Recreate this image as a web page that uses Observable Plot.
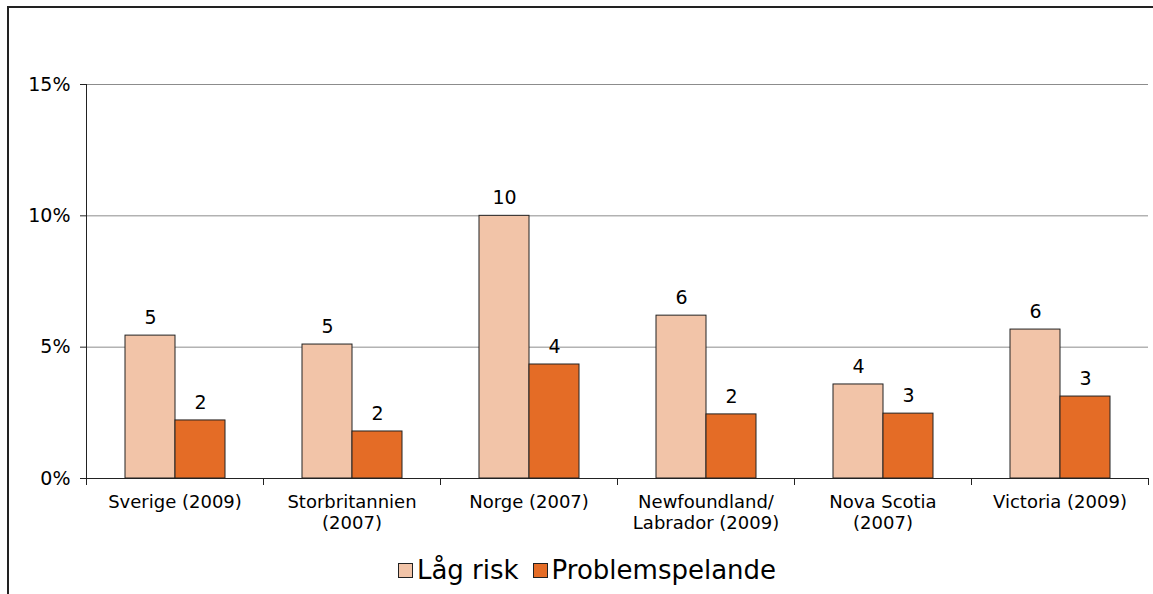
<!DOCTYPE html>
<html><head><meta charset="utf-8">
<script src="https://cdn.jsdelivr.net/npm/d3@7"></script>
<script src="https://cdn.jsdelivr.net/npm/@observablehq/plot@0.6"></script>
<style>
body{margin:0;background:#fff;font-family:"DejaVu Sans",Verdana,sans-serif;}
#frame{position:absolute;left:7px;top:6px;width:1146px;height:600px;border-left:2px solid #222;border-top:2px solid #222;}
#chart{position:absolute;left:0;top:0;}
#legend{position:absolute;left:0;top:547px;width:1156px;display:flex;justify-content:center;align-items:center;font-size:26px;color:#000;}
.item{display:flex;align-items:center;margin:0 7px;}
.sw{width:13px;height:13px;border:1px solid #222;margin-right:4px;}
</style></head><body>
<div id="frame"><div id="chart"></div><div id="legend"></div></div>
<script>
const categories = ["Sverige (2009)", "Storbritannien\n(2007)", "Norge (2007)", "Newfoundland/\nLabrador (2009)", "Nova Scotia\n(2007)", "Victoria (2009)"];
const series = ["Låg risk", "Problemspelande"];
const lagRisk = [5.44, 5.10, 10.0, 6.20, 3.58, 5.67];
const problem = [2.21, 1.79, 4.34, 2.44, 2.47, 3.12];
const lagRiskLabels = ["5", "5", "10", "6", "4", "6"];
const problemLabels = ["2", "2", "4", "2", "3", "3"];
const yTicks = [0, 5, 10, 15];
const colors = ["#F2C4A8", "#E46C26"];

const table = [];
categories.forEach((c, i) => {
  table.push({category: c, series: series[0], value: lagRisk[i], label: lagRiskLabels[i]});
  table.push({category: c, series: series[1], value: problem[i], label: problemLabels[i]});
});

const font = "DejaVu Sans, Verdana, sans-serif";
const chart = Plot.plot({
  width: 1140, height: 545,
  marginLeft: 77, marginTop: 76, marginBottom: 75, marginRight: 1,
  style: {fontFamily: font, fontSize: "18px", color: "#000", background: "#fff"},
  fx: {domain: categories, padding: 0, label: null},
  x: {domain: series, paddingInner: 0, paddingOuter: 0.75, axis: null},
  y: {domain: [0, 15], label: null},
  color: {domain: series, range: colors},
  marks: [
    Plot.gridY(yTicks.slice(1), {stroke: "#8c8c8c", strokeOpacity: 1, strokeWidth: 1}),
    Plot.axisY(yTicks, {tickFormat: d => d + "%", tickSize: 6, tickPadding: 10, fontSize: 19, stroke: "#222", label: null}),
    Plot.axisFx({anchor: "bottom", tickSize: 0, tickPadding: 14, fontSize: 18, lineHeight: 1.2, label: null}),
    Plot.frame({anchor: "left", facet: "super", stroke: "#222"}),
    Plot.frame({anchor: "left", insetTop: 394, insetBottom: -6, stroke: "#222"}),
    Plot.frame({anchor: "right", insetTop: 394, insetBottom: -6, stroke: "#222"}),
    Plot.barY(table, {fx: "category", x: "series", y: "value", fill: "series", stroke: "#222", strokeWidth: 1, inset: 0}),
    Plot.ruleY([0], {stroke: "#222", strokeWidth: 1}),
    Plot.text(table, {fx: "category", x: "series", y: "value", text: "label", dy: -18, fontSize: 19, fill: "#000"})
  ]
});
document.getElementById("chart").append(chart);

const legend = document.getElementById("legend");
series.forEach((s, i) => {
  const item = document.createElement("div");
  item.className = "item";
  const sw = document.createElement("div");
  sw.className = "sw";
  sw.style.background = colors[i];
  const t = document.createElement("span");
  t.textContent = s;
  item.append(sw, t);
  legend.append(item);
});
</script>
</body></html>
